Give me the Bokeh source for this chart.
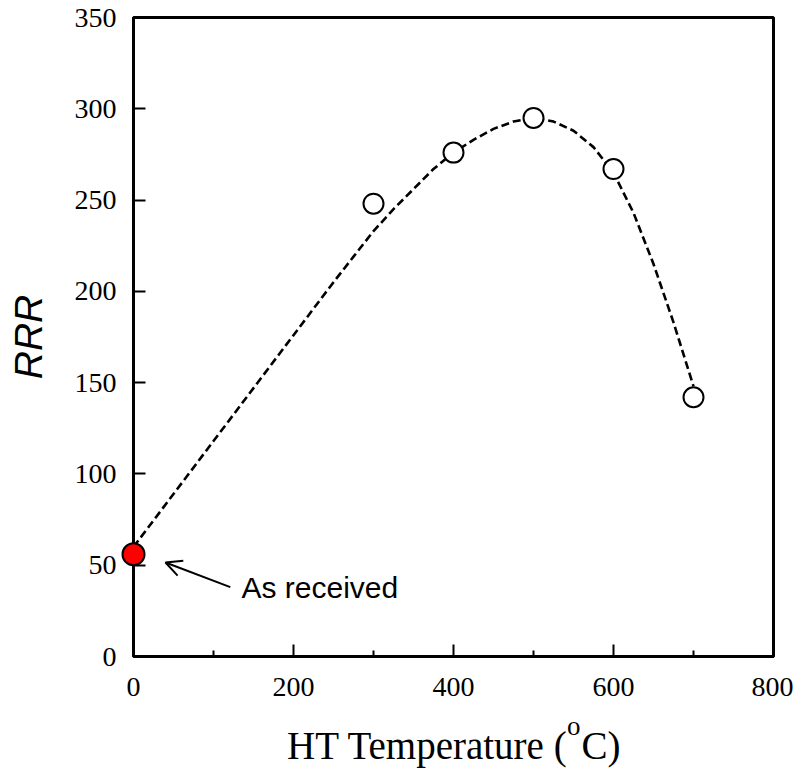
import numpy as np
from bokeh.plotting import figure
from bokeh.models import Range1d, Label, Arrow, OpenHead, FixedTicker
from bokeh.core.properties import value
from bokeh.embed import file_html
from bokeh.resources import INLINE

# measured data
ht_temp = [300, 400, 500, 600, 700]
rrr = [248, 276, 295, 267, 142]
as_received_temp = [0]
as_received_rrr = [56]

# dashed guide curve
guide_temp = [0, 50, 100, 150, 200, 250, 275, 300, 325, 350, 375, 400, 425, 450, 475, 500,
              525, 550, 575, 600, 625, 650, 675, 700]
guide_rrr = [60, 89, 118, 147, 176, 205, 219, 233, 245, 256, 267, 276, 283, 289, 293, 295,
             293, 288, 279, 265, 243, 215, 183, 148]

x_ticks = [0, 200, 400, 600, 800]
x_minor = [100, 300, 500, 700]
y_ticks = [0, 50, 100, 150, 200, 250, 300, 350]

p = figure(width=793, height=769, output_backend="svg", toolbar_location=None,
           x_range=Range1d(0, 800), y_range=Range1d(0, 350),
           min_border_left=133, min_border_right=20, min_border_top=17, min_border_bottom=113)
p.grid.visible = False
p.background_fill_color = "white"
p.border_fill_color = "white"
p.outline_line_color = "black"
p.outline_line_width = 3

p.line(guide_temp, guide_rrr, line_color="black", line_width=2.6, line_dash="8 4", line_join="round")
p.scatter(ht_temp, rrr, size=20, fill_color="white", line_color="black", line_width=2)
p.scatter(as_received_temp, as_received_rrr, size=22, fill_color="#ff0000", line_color="black",
          line_width=2, level="overlay")

p.add_layout(Arrow(end=OpenHead(size=16, line_width=2), x_start=121, y_start=38, x_end=40, y_end=51.5,
                   line_width=2, line_color="black"))
p.add_layout(Label(x=135, y=38, text="As received", text_font="Liberation Sans", text_font_size="30px",
                   text_baseline="middle", text_color="black"))

# x-axis title with superscript "o" (drawn as overlay text so it is not clipped to the frame)
title_kw = dict(text_font=value("Liberation Serif"), text_baseline="alphabetic", text_align="left",
                text_color="black", level="overlay")
p.text(x=[192], y=[-48.8], text=["HT Temperature ("], text_font_size=value("39px"), **title_kw)
p.text(x=[542], y=[-38.2], text=["o"], text_font_size=value("27px"), **title_kw)
p.text(x=[560], y=[-48.8], text=["C)"], text_font_size=value("39px"), **title_kw)

xa = p.xaxis[0]
xa.ticker = FixedTicker(ticks=x_ticks, minor_ticks=x_minor)
ya = p.yaxis[0]
ya.ticker = FixedTicker(ticks=y_ticks)
for ax in (xa, ya):
    ax.axis_line_width = 3
    ax.major_tick_in = 12
    ax.major_tick_out = 0
    ax.minor_tick_in = 6
    ax.minor_tick_out = 0
    ax.major_tick_line_width = 2
    ax.minor_tick_line_width = 2
    ax.major_label_text_font = "Liberation Serif"
    ax.major_label_text_font_size = "28px"
    ax.major_label_text_color = "black"
ya.minor_tick_in = 0
xa.major_label_standoff = 21
ya.major_label_standoff = 17

ya.axis_label = "RRR"
ya.axis_label_text_font = "Liberation Sans"
ya.axis_label_text_font_style = "italic"
ya.axis_label_text_font_size = "39px"
ya.axis_label_text_color = "black"
ya.axis_label_standoff = 22

open("out.html", "w").write(file_html(p, INLINE))
